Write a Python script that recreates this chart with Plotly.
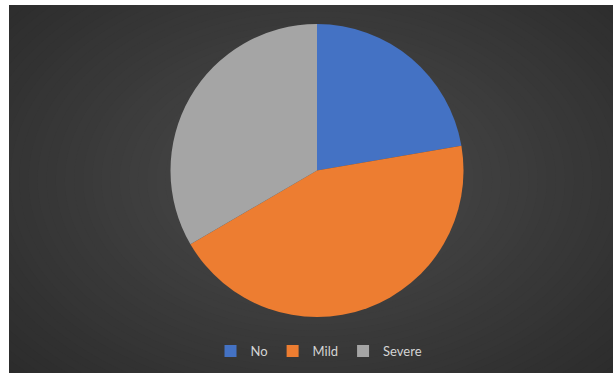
import plotly.graph_objects as go

categories = ["No", "Mild", "Severe"]
values = [22.3, 44.3, 33.4]
colors = ["#4472C4", "#ED7D31", "#A5A5A5"]

W, H = 613, 373

fig = go.Figure()
fig.add_trace(go.Pie(
    labels=categories,
    values=values,
    sort=False,
    direction="clockwise",
    rotation=0,
    textinfo="none",
    hoverinfo="label+percent",
    marker=dict(colors=colors, line=dict(width=0)),
    domain=dict(x=[(317 - 146.5) / W, (317 + 146.5) / W],
                y=[1 - 317 / H, 1 - 24 / H]),
))

# radial-gradient background built from concentric ellipses
shapes = []
outer = (0x2a, 0x2a, 0x2a)
inner = (0x4b, 0x4b, 0x4b)
N = 48
cx, cy = 315 / W, 1 - 180 / H
for i in range(N):
    t = i / (N - 1)
    s = 1.0 - 0.97 * t
    rx = s * 0.72
    ry = s * 0.80
    c = tuple(int(round(o + (n - o) * t)) for o, n in zip(outer, inner))
    shapes.append(dict(type="circle", xref="paper", yref="paper",
                       x0=cx - rx, x1=cx + rx, y0=cy - ry, y1=cy + ry,
                       fillcolor="rgb(%d,%d,%d)" % c, line=dict(width=0),
                       layer="below"))
# white frame strips at left and top
shapes.append(dict(type="rect", xref="paper", yref="paper",
                   x0=-0.2, x1=9 / W, y0=-0.2, y1=1.2,
                   fillcolor="white", line=dict(width=0), layer="below"))
shapes.append(dict(type="rect", xref="paper", yref="paper",
                   x0=-0.2, x1=1.2, y0=1 - 5 / H, y1=1.2,
                   fillcolor="white", line=dict(width=0), layer="below"))

fig.update_layout(
    width=W, height=H,
    margin=dict(l=0, r=0, t=0, b=0),
    paper_bgcolor="#2a2a2a",
    plot_bgcolor="rgba(0,0,0,0)",
    shapes=shapes,
    showlegend=True,
    legend=dict(orientation="h", x=319 / W, xanchor="center",
                y=1 - 351 / H, yanchor="middle",
                font=dict(family="Lato, Open Sans, sans-serif", size=13, color="#d4d4d4"),
                bgcolor="rgba(0,0,0,0)", itemwidth=30,
                traceorder="normal"),
)

fig.write_html("out.html",
               config={"displayModeBar": False},
               post_script="document.body.style.margin='0';document.body.style.overflow='hidden';")
